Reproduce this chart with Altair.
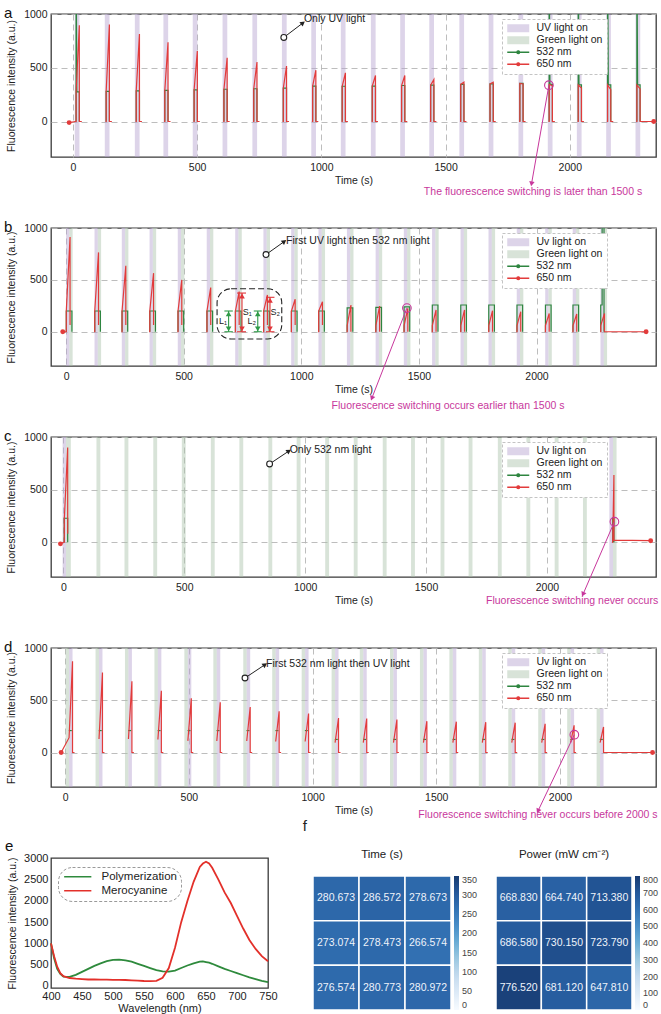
import altair as alt
import pandas as pd

FONT = "Liberation Sans"
INK = "#222222"
RED = "#e23b3b"
GREEN = "#2e8540"
UV_BASE = "#b39fcf"
GRN_BASE = "#a9c2a9"
MAGENTA = "#c8379c"
GRID = "#b5b5b5"
BAND_OPACITY = 0.45
Y_MIN, Y_MAX = -330, 1000
SPIKE = 1600  # saturated 532 nm readings, clipped at the frame
FS = 10.5

# ---------------- panel a : only UV light ----------------
a_band = [17, 138, 259, 374, 492, 612, 732, 851, 969, 1088, 1209, 1327, 1444, 1565,
          1683, 1803, 1921, 2038, 2156, 2274]
a_peak = [895, 902, 813, 737, 655, 592, 554, 516, 478, 453, 428, 428, 390, 366, 366,
          350, 334, 312, 297, 303]
a_green = [275, 280, 285, 290, 295, 300, 305, 310, 330, 328, 330, 335, 338, 345, 350,
           355, 345, 340, 340, 340]
a_spike = [True] + [False] * 15 + [True] * 4

# ---------------- panel b : UV then 532 nm ----------------
b_band = [14, 135, 251, 369, 489, 612, 733, 853, 971, 1087, 1208, 1330, 1450, 1570,
          1691, 1810, 1930, 2051, 2168, 2286]
b_peak = [913, 765, 635, 565, 500, 426, 387, 355, 313, 290, 258, 248, 226, 210, 210,
          203, 194, 177, 171, 177]
b_base = [200] * 10 + [60] * 10
b_after = [65] * 10 + [0] * 10
b_green = [200] * 10 + [230, 235, 240, 258, 258, 258, 258, 258, 258, 258]

# ---------------- panel c : only 532 nm ----------------
c_band = [14, 145, 261, 380, 498, 618, 736, 856, 973, 1091, 1209, 1329, 1446, 1568,
          1684, 1805, 1923, 2040, 2157, 2273]
c_pulse_rise = [4, 2272]
c_pulse_top = [18, 2277]
c_peak = [900, 640]
c_base = [220, 0]
c_after = [80, 20]
c_green = [228, 230]

# ---------------- panel d : 532 nm then UV ----------------
d_band = [16, 137, 256, 375, 496, 613, 734, 851, 970, 1091, 1205, 1327, 1448, 1567,
          1686, 1805, 1926, 2043, 2162]
d_peak = [873, 765, 682, 590, 519, 481, 435, 395, 373, 330, 325, 315, 300, 295, 290,
          285, 275, 260, 245]
d_base = [142, 130, 130, 125, 111, 110, 110, 105, 105, 95, 95, 95, 95, 95, 95, 95, 95,
          95, 95]
d_green = [210] * 9 + [125] * 10

# ---------------- panel e : emission spectra ----------------
e_wl = [400, 405, 410, 415, 420, 430, 440, 450, 460, 470, 480, 490, 500, 510, 520, 530,
        540, 550, 560, 570, 580, 590, 600, 610, 620, 630, 640, 645, 650, 655, 660, 670,
        680, 690, 700, 710, 720, 730, 740, 750]
e_poly = [1000, 650, 400, 280, 220, 210, 260, 330, 400, 470, 530, 580, 610, 620, 600,
          570, 520, 470, 420, 370, 340, 335, 360, 420, 480, 530, 570, 575, 560, 545,
          520, 460, 400, 350, 300, 250, 200, 160, 120, 90]
e_mero = [1000, 700, 450, 300, 230, 185, 170, 160, 150, 150, 148, 145, 140, 140, 138,
          130, 125, 115, 110, 120, 190, 420, 900, 1500, 2000, 2450, 2800, 2880, 2920,
          2880, 2780, 2500, 2200, 1950, 1650, 1350, 1080, 870, 700, 580]

# ---------------- panel f : switching maps ----------------
f_time = [[280.673, 286.572, 278.673],
          [273.074, 278.473, 266.574],
          [276.574, 280.773, 280.972]]
f_power = [[668.830, 664.740, 713.380],
           [686.580, 730.150, 723.790],
           [776.520, 681.120, 647.810]]
BLUES = ["#f7fbff", "#deebf7", "#c6dbef", "#9ecae1", "#6baed6", "#4a8fc8",
         "#3373b5", "#24589a", "#173a70"]

# ---------------- annotations (data coordinates) ----------------
a_call = dict(cx=849, cv=782, tx=926, tv=917, lx=930, lv=950, txt="Only UV light", ang=53)
a_note = dict(cx=1916, cv=338, tx=1846, tv=-580, lx=1852, lv=-660, ang=190,
              txt="The fluorescence switching is later than 1500 s")
b_call = dict(cx=850, cv=744, tx=928, tv=870, lx=935, lv=879,
              txt="First UV light then 532 nm light", ang=54)
b_note = dict(cx=1449, cv=228, tx=1300, tv=-640, lx=1624, lv=-715, ang=201,
              txt="Fluorescence switching occurs earlier than 1500 s")
c_call = dict(cx=853, cv=744, tx=933, tv=867, lx=936, lv=877, txt="Only 532 nm light", ang=56)
c_note = dict(cx=2279, cv=195, tx=2149, tv=-495, lx=2104, lv=-555, ang=204,
              txt="Fluorescence switching never occurs")
d_call = dict(cx=727, cv=713, tx=808, tv=841, lx=812, lv=850,
              txt="First 532 nm light then UV light", ang=56)
d_note = dict(cx=2058, cv=170, tx=1911, tv=-560, lx=1911, lv=-600, ang=205,
              txt="Fluorescence switching never occurs before 2000 s")

inset_box = dict(x0=642, x1=917, y0=-70, y1=414)
inset_arrows = [
    dict(t=691, lo=0, hi=200, c0=673, c1=709, kind="L", lab="L\u2081", lt=684, lv=100),
    dict(t=748, lo=0, hi=373, c0=727, c1=765, kind="S", lab="S\u2081", lt=751, lv=195),
    dict(t=815, lo=0, hi=200, c0=798, c1=832, kind="L", lab="L\u2082", lt=808, lv=100),
    dict(t=867, lo=0, hi=332, c0=850, c1=886, kind="S", lab="S\u2082", lt=869, lv=195),
]
ARROW_COL = {"L": "#2e9a48", "S": "#e0363a"}
LABEL_ALIGN = {"L": "right", "S": "left"}

RECT_PATH = "M-2.75,-1L2.75,-1L2.75,1L-2.75,1Z"
LINE_DOT = ("M-2.75,0L2.75,0M0.35,0A0.35,0.35,0,1,1,-0.35,0"
            "A0.35,0.35,0,1,1,0.35,0")
LINE_E = "M-3.4,0L3.4,0"


def band_table(times, parts):
    """parts: list of (key, start offset, end offset) per band."""
    rows = []
    for t, ps in zip(times, parts):
        for k, lo, hi in ps:
            rows.append({"t0": t + lo, "t1": t + hi, "key": k, "lo": Y_MIN, "hi": Y_MAX})
    return pd.DataFrame(rows)


def to_rows(paths, key):
    rows = []
    for s, pts in enumerate(paths):
        for i, (t, v) in enumerate(pts):
            rows.append({"t": t, "v": v, "seg": s, "i": i, "key": key})
    return pd.DataFrame(rows)


def red_paths(rises, tops, base, peak, after, from_zero, tail, start, finish):
    paths = []
    n = len(rises)
    for i in range(n):
        rs, pk = rises[i], tops[i]
        pts = []
        if i == 0:
            pts.append(start)
        if from_zero:
            pts += [(rs - 3, 0), (rs, 0)]
        if base[i] > 0:
            pts.append((rs, base[i]))
        pts += [(pk, peak[i]), (pk, after[i])]
        if i == n - 1:
            pts.append(finish)
        elif tail:
            pts.append((pk + tail, after[i]))
        paths.append(pts)
    return paths


def key_legend(uv_label):
    line = "(datum.value == '532 nm' || datum.value == '650 nm')"
    colour = (f"datum.value == '532 nm' ? '{GREEN}' : datum.value == '650 nm' ? '{RED}' : "
              f"datum.value == 'Green light on' ? '{GRN_BASE}' : '{UV_BASE}'")
    return alt.Legend(
        title=None, orient="none", legendX=451, legendY=5,
        symbolType=alt.ExprRef(expr=f"{line} ? '{LINE_DOT}' : '{RECT_PATH}'"),
        symbolSize=64, symbolOffset=7, labelOffset=13,
        symbolFillColor=alt.ExprRef(expr=colour),
        symbolStrokeColor=alt.ExprRef(expr=colour),
        symbolStrokeWidth=alt.ExprRef(expr=f"{line} ? 1.3 : 0"),
        symbolOpacity=alt.ExprRef(expr=f"{line} ? 1 : {BAND_OPACITY}"),
        labelFont=FONT, labelFontSize=FS, labelColor=INK, rowPadding=1,
        padding=4, strokeColor="#c4c4c4", fillColor="white",
    )


def trace_panel(letter, uv_label, xdom, band_df, red_df, green_df, ends_df,
                call, note, height, inset=False):
    keys = [uv_label, "Green light on", "532 nm", "650 nm"]
    cs = alt.Scale(domain=keys, range=[UV_BASE, GRN_BASE, GREEN, RED])
    xs = alt.Scale(domain=xdom, nice=False, zero=False)
    ys = alt.Scale(domain=[Y_MIN, Y_MAX], nice=False, zero=False)
    leg = key_legend(uv_label)
    color = alt.Color("key:N", scale=cs, legend=leg)
    xaxis = alt.Axis(values=[0, 500, 1000, 1500, 2000], title="Time (s)", grid=True,
                     gridDash=[6, 4], gridColor=GRID, gridWidth=0.9, ticks=False,
                     domain=False, labelFontSize=FS, titleFontSize=FS, labelPadding=5,
                     titlePadding=3, format="d", labelFlush=False)
    yaxis = alt.Axis(values=[0, 500, 1000], title="Fluorescence intensity (a.u.)",
                     grid=True, gridDash=[6, 4], gridColor=GRID, gridWidth=0.9,
                     ticks=False, domain=False, labelFontSize=FS, titleFontSize=FS,
                     labelPadding=4, titlePadding=7, format="d", labelFlush=False)

    def X(f):
        return alt.X(f"{f}:Q", scale=xs, axis=xaxis)

    def Y(f):
        return alt.Y(f"{f}:Q", scale=ys, axis=yaxis)

    band = alt.Chart(band_df).mark_rect(opacity=BAND_OPACITY).encode(
        x=X("t0"), x2="t1:Q", y=Y("lo"), y2="hi:Q", color=color)
    layers = [band]
    for df in (green_df, red_df):
        layers.append(alt.Chart(df).mark_line(strokeWidth=1.2, clip=True).encode(
            x=X("t"), y=Y("v"), color=color, detail="seg:N", order=alt.Order("i:Q")))
    layers.append(alt.Chart(ends_df).mark_point(filled=True, size=24, color=RED,
                                                opacity=1).encode(x=X("t"), y=Y("v")))

    # callouts: a black one inside the frame, a magenta one pointing below the axis
    for c, colour, ring, align in ((call, INK, "white", "left"),
                                   (note, MAGENTA, "open", "center")):
        d = pd.DataFrame([c])
        layers.append(alt.Chart(d).mark_rule(color=colour, strokeWidth=1).encode(
            x=X("cx"), y=Y("cv"), x2="tx:Q", y2="tv:Q"))
        if ring == "open":
            layers.append(alt.Chart(d).mark_point(shape="circle", filled=False, color=colour,
                                                  size=75, strokeWidth=1.1, opacity=1).encode(
                x=X("cx"), y=Y("cv")))
        else:
            layers.append(alt.Chart(d).mark_point(shape="circle", fill="white", stroke=colour,
                                                  size=34, strokeWidth=1.1, opacity=1).encode(
                x=X("cx"), y=Y("cv")))
        layers.append(alt.Chart(d).mark_point(shape="triangle-up", filled=True, color=colour,
                                              size=30, angle=c["ang"], opacity=1).encode(
            x=X("tx"), y=Y("tv")))
        layers.append(alt.Chart(d).mark_text(align=align, baseline="middle", font=FONT,
                                             fontSize=FS, color=colour).encode(
            x=X("lx"), y=Y("lv"), text="txt:N"))

    if inset:
        layers.append(alt.Chart(pd.DataFrame([inset_box])).mark_rect(
            fill=None, stroke="#222", strokeDash=[6, 3], strokeWidth=1.1,
            cornerRadius=14).encode(x=X("x0"), x2="x1:Q", y=Y("y0"), y2="y1:Q"))
        ar = pd.DataFrame(inset_arrows)
        for kind, colour in ARROW_COL.items():
            sub = ar[ar["kind"] == kind]
            caps = pd.concat([sub.assign(cv=sub["lo"]), sub.assign(cv=sub["hi"])])
            layers.append(alt.Chart(caps).mark_rule(strokeWidth=1.1, color=colour).encode(
                x=X("c0"), x2="c1:Q", y=Y("cv")))
            layers.append(alt.Chart(sub).mark_rule(strokeWidth=1.1, color=colour).encode(
                x=X("t"), y=Y("lo"), y2="hi:Q"))
            layers.append(alt.Chart(sub).transform_calculate(hv="datum.hi - 28").mark_point(
                shape="triangle-up", filled=True, size=32, opacity=1, color=colour).encode(
                x=X("t"), y=Y("hv")))
            layers.append(alt.Chart(sub).transform_calculate(bv="datum.lo + 28").mark_point(
                shape="triangle-down", filled=True, size=32, opacity=1, color=colour).encode(
                x=X("t"), y=Y("bv")))
            layers.append(alt.Chart(sub).mark_text(
                align=LABEL_ALIGN[kind], baseline="middle", font=FONT, fontSize=9,
                color=INK).encode(x=X("lt"), y=Y("lv"), text="lab:N"))

    return alt.layer(*layers).properties(
        width=605, height=height,
        title=alt.TitleParams(letter, anchor="start", frame="group", dx=-47, offset=-19,
                              baseline="middle", fontSize=15, font=FONT,
                              fontWeight="normal", color="#111"))


def ends_table(points):
    return pd.DataFrame([{"t": t, "v": v} for t, v in points])


UVG = [("Uv light on", -14, 0), ("Green light on", 0, 14)]
GUV = [("Green light on", -14, 0), ("Uv light on", 0, 14)]

# ---- panel a ----
a_rise = [t - 4 for t in a_band]
a_top = [t + 9 for t in a_band]
a_red = to_rows(red_paths(a_rise, a_top, a_green, a_peak, [0] * 20, True, 10,
                          (-15, -10), (2338, 0)), "650 nm")
a_gp = []
for rs, pk, g, s in zip(a_rise, a_top, a_green, a_spike):
    a_gp.append([(rs, 0), (rs, SPIKE), (rs + 3, g), (pk, g), (pk, 0)] if s
                else [(rs, 0), (rs, g), (pk, g), (pk, 0)])
pa = trace_panel("a", "UV light on", [-88, 2347],
                 band_table(a_band, [[("UV light on", -9.5, 9.5)]] * 20),
                 a_red, to_rows(a_gp, "532 nm"), ends_table([(-15, -10), (2338, 0)]),
                 a_call, a_note, 143)

# ---- panel b ----
b_rise = [t - 13 for t in b_band]
b_top = [t + 3 for t in b_band]
b_red = to_rows(red_paths(b_rise, b_top, b_base, b_peak, b_after, True, 0,
                          (-14, 0), (2466, 0)), "650 nm")
b_gp = []
for k, (rs, pk, g) in enumerate(zip(b_rise, b_top, b_green)):
    if k == len(b_band) - 1:
        b_gp.append([(rs, 0), (rs, g), (rs + 6, g), (rs + 6, SPIKE), (rs + 14, SPIKE), (rs + 14, 0)])
    else:
        b_gp.append([(rs, 0), (rs, g), (pk + 8, g), (pk + 8, 0)])
pb = trace_panel("b", "Uv light on", [-64, 2508],
                 band_table(b_band, [UVG] * 20),
                 b_red, to_rows(b_gp, "532 nm"), ends_table([(-14, 0), (2466, 0)]),
                 b_call, b_note, 138, inset=True)

# ---- panel c ----
c_parts = [[("Uv light on", -17, -3), ("Green light on", -3, 17)]] + \
          [[("Green light on", -8, 8)]] * 18 + \
          [[("Uv light on", -15, 0), ("Green light on", 0, 15)]]
c_red = to_rows(red_paths(c_pulse_rise, c_pulse_top, c_base, c_peak, c_after, True, 0,
                          (-12, -15), (2429, 15)), "650 nm")
c_gp = [[(rs, 0), (rs, g), (pk, g), (pk, 0)]
        for rs, pk, g in zip(c_pulse_rise, c_pulse_top, c_green)]
pc = trace_panel("c", "Uv light on", [-51, 2451],
                 band_table(c_band, c_parts),
                 c_red, to_rows(c_gp, "532 nm"), ends_table([(-12, -15), (2429, 15)]),
                 c_call, c_note, 140)

# ---- panel d ----
d_rise = list(d_band)
d_top = [t + 14 for t in d_band]
d_red = to_rows(red_paths(d_rise, d_top, d_base, d_peak, [0] * 19, False, 8,
                          (-16, 0), (2374, 0)), "650 nm")
d_gp = [[(rs - 1, g), (pk - 3, g)] for rs, pk, g in zip(d_rise, d_top, d_green)]
pdd = trace_panel("d", "Uv light on", [-57, 2388],
                  band_table(d_band, [GUV] * 19),
                  d_red, to_rows(d_gp, "532 nm"), ends_table([(-16, 0), (2374, 0)]),
                  d_call, d_note, 139)

# ---- panel e ----
e_df = pd.concat([
    pd.DataFrame({"wl": e_wl, "val": e_poly, "series": "Polymerization"}),
    pd.DataFrame({"wl": e_wl, "val": e_mero, "series": "Merocyanine"}),
])
e_leg = alt.Legend(title=None, orient="none", legendX=7, legendY=9, symbolType=LINE_E,
                   symbolSize=64, symbolStrokeWidth=1.5, symbolOffset=10, labelOffset=18,
                   labelFont=FONT, labelFontSize=11.5, labelColor=INK, padding=4,
                   rowPadding=1, strokeColor="#9a9a9a",
                   cornerRadius=14, fillColor="white")
pe = alt.Chart(e_df).mark_line(strokeWidth=1.8).encode(
    x=alt.X("wl:Q", scale=alt.Scale(domain=[400, 750], nice=False, zero=False),
            axis=alt.Axis(values=list(range(400, 751, 50)), title="Wavelength (nm)",
                          grid=False, ticks=False, domain=False, labelFontSize=11,
                          titleFontSize=11, labelPadding=2, titlePadding=1,
                          labelFlush=False)),
    y=alt.Y("val:Q", scale=alt.Scale(domain=[-50, 3010], nice=False, zero=False),
            axis=alt.Axis(values=list(range(0, 3001, 500)), format="d",
                          title="Fluorescence intensity (a.u.)", grid=False, ticks=False,
                          domain=False, labelFontSize=11, titleFontSize=FS,
                          labelPadding=3, titlePadding=6, labelFlush=False)),
    color=alt.Color("series:N", scale=alt.Scale(domain=["Polymerization", "Merocyanine"],
                                                range=["#2e8a3c", "#e3302a"]), legend=e_leg),
    order=alt.Order("wl:Q"),
).properties(width=217, height=130,
             title=alt.TitleParams("e", anchor="start", frame="group", dx=-46, offset=-9,
                                   baseline="middle", fontSize=15, font=FONT,
                                   fontWeight="normal", color="#111"))


# ---- panel f ----
def heat(title, grid, dom, ticks, width, letter=None):
    rows = []
    for r in range(3):
        for c in range(3):
            val = grid[r][c]
            rows.append({"c0": c, "c1": c + 1, "r0": 2 - r, "r1": 3 - r,
                         "xm": c + 0.5, "ym": 2.5 - r, "val": val, "lab": f"{val:.3f}"})
    df = pd.DataFrame(rows)
    xs = alt.Scale(domain=[0, 3], nice=False, zero=False)
    ys = alt.Scale(domain=[0, 3.403], nice=False, zero=False)
    cells = alt.Chart(df).mark_rect(stroke="white", strokeWidth=1.5).encode(
        x=alt.X("c0:Q", scale=xs, axis=None), x2="c1:Q",
        y=alt.Y("r0:Q", scale=ys, axis=None), y2="r1:Q",
        color=alt.Color("val:Q", scale=alt.Scale(domain=dom, range=BLUES),
                        legend=alt.Legend(title=None, orient="none", legendX=width + 3,
                                          legendY=18, direction="vertical",
                                          gradientLength=134, gradientThickness=5,
                                          gradientStrokeWidth=0, values=ticks,
                                          labelFont=FONT, labelFontSize=9,
                                          labelColor="#444", labelOffset=3,
                                          labelOverlap=False, strokeColor="transparent")))
    text = alt.Chart(df).mark_text(font=FONT, fontSize=FS, color="#eef3fa").encode(
        x=alt.X("xm:Q", scale=xs, axis=None), y=alt.Y("ym:Q", scale=ys, axis=None),
        text="lab:N")
    heads = [{"x": 1.5, "y": 3.48, "txt": title, "fs": 11.5}]
    if letter:
        heads.append({"x": -0.18, "y": 4.12, "txt": letter, "fs": 15})
    head = alt.Chart(pd.DataFrame(heads)).mark_text(
        font=FONT, color=INK, baseline="middle").encode(
        x=alt.X("x:Q", scale=xs, axis=None), y=alt.Y("y:Q", scale=ys, axis=None),
        text="txt:N", size=alt.Size("fs:Q", scale=None))
    return alt.layer(cells, text, head).properties(
        width=width, height=152, view=alt.ViewBackground(stroke="transparent"))


h1 = heat("Time (s)", f_time, [0, 350], list(range(0, 351, 50)), 138, letter="f")
h2 = heat("Power (mW cm\u207b\u00b2)", f_power, [0, 800], list(range(0, 801, 100)), 136)

IND = dict(x="independent", y="independent", color="independent")
bottom = alt.hconcat(pe, h1, h2, spacing=45, bounds="flush").resolve_scale(**IND)
chart = alt.vconcat(pa, pb, pc, pdd, bottom, spacing=71, bounds="flush").resolve_scale(**IND)

chart = chart.properties(padding={"left": 3, "top": 5, "right": 0, "bottom": 0}).configure(
    font=FONT
).configure_axis(
    labelFont=FONT, titleFont=FONT, labelColor=INK, titleColor=INK,
    titleFontWeight="normal"
).configure_legend(strokeDash=[3, 2]).configure_view(
    stroke="#3a3a3a", strokeWidth=1.3).configure_title(font=FONT)

chart.save("out.html", embed_options={"renderer": "svg", "actions": False})
